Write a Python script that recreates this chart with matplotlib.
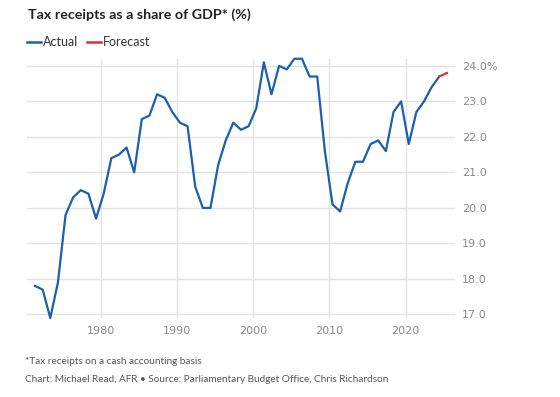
import numpy as np
import matplotlib.pyplot as plt

# fiscal years (plotted a little before the calendar year tick)
years = np.arange(1971, 2026)
receipts = [17.8, 17.7, 16.9, 17.9, 19.8, 20.3, 20.5, 20.4, 19.7, 20.4,
            21.4, 21.5, 21.7, 21.0, 22.5, 22.6, 23.2, 23.1, 22.7, 22.4,
            22.3, 20.6, 20.0, 20.0, 21.2, 21.9, 22.4, 22.2, 22.3, 22.8,
            24.1, 23.2, 24.0, 23.9, 24.2, 24.2, 23.7, 23.7, 21.6, 20.1,
            19.9, 20.7, 21.3, 21.3, 21.8, 21.9, 21.6, 22.7, 23.0, 21.8,
            22.7, 23.0, 23.4, 23.7, 23.8]
first_forecast = 2024  # last actual year, forecast line starts here

x_ticks = [1980, 1990, 2000, 2010, 2020]
y_ticks = [17, 18, 19, 20, 21, 22, 23, 24]
y_labels = ['17.0', '18.0', '19.0', '20.0', '21.0', '22.0', '23.0', '24.0%']

blue = '#1c5fad'
red = '#d2362d'
grid = '#e3e3e3'
tick_grey = '#8a8a8a'
font = ['Lato', 'DejaVu Sans']

fig = plt.figure(figsize=(5.6, 3.97), dpi=100)
ax = fig.add_axes([0.048, 0.199, 0.765, 0.653])

x = years + 0.4
receipts = np.array(receipts)
actual = years <= first_forecast
forecast = years >= first_forecast
ax.plot(x[actual], receipts[actual], color=blue, lw=1.6, clip_on=False, zorder=3)
ax.plot(x[forecast], receipts[forecast], color=red, lw=1.6, clip_on=False, zorder=3)

ax.set_xlim(1970.33, 2026.5)
ax.set_ylim(16.9, 24.2)
ax.set_xticks(x_ticks)
ax.set_yticks(y_ticks)
ax.set_yticklabels(y_labels)
ax.yaxis.tick_right()
ax.grid(True, color=grid, lw=1)
ax.set_axisbelow(True)
for s in ax.spines.values():
    s.set_visible(False)
ax.tick_params(axis='both', length=0, colors=tick_grey, labelsize=8)
ax.tick_params(axis='y', pad=5)
ax.tick_params(axis='x', pad=6)

fig.text(28 / 560, 1 - 15 / 397, 'Tax receipts as a share of GDP* (%)', family=font,
         fontsize=10.3, fontweight='bold', color='#222222', va='center')

# legend
ly = 1 - 42 / 397
fig.add_artist(plt.Line2D([27 / 560, 41 / 560], [ly, ly], color=blue, lw=1.8))
fig.text(43 / 560, ly, 'Actual', family=font, fontsize=9, color='#333333', va='center')
fig.add_artist(plt.Line2D([87 / 560, 101 / 560], [ly, ly], color=red, lw=1.8))
fig.text(103 / 560, ly, 'Forecast', family=font, fontsize=9, color='#333333', va='center')

fig.text(25 / 560, 1 - 361 / 397, '*Tax receipts on a cash accounting basis', family=font,
         fontsize=7.2, color='#555555', va='center')
fig.text(25 / 560, 1 - 379 / 397,
         'Chart: Michael Read, AFR \u2022 Source: Parliamentary Budget Office, Chris Richardson',
         family=font, fontsize=7.2, color='#555555', va='center')

fig.savefig('out.png', dpi=100)
